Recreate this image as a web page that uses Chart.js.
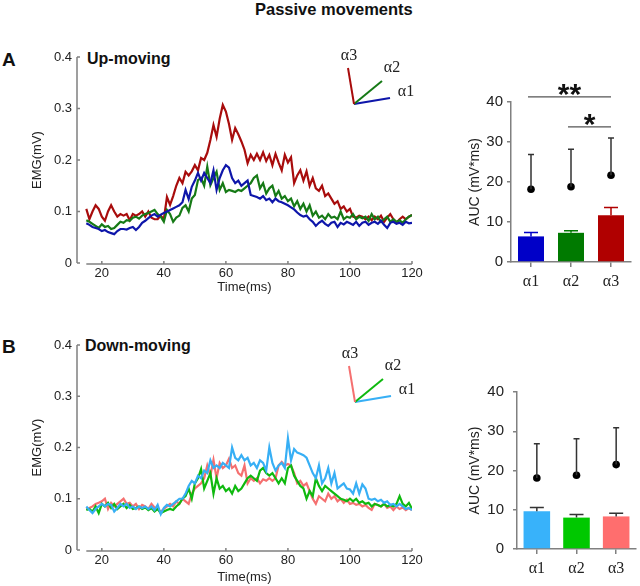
<!DOCTYPE html>
<html>
<head>
<meta charset="utf-8">
<script src="https://cdn.jsdelivr.net/npm/chart.js@4.4.1/dist/chart.umd.min.js"></script>
<style>
  body { margin: 0; width: 640px; height: 586px; overflow: hidden; background: #fff; position: relative;
         font-family: "Liberation Sans", Arial, sans-serif; }
  .lbl { position: absolute; font-weight: bold; color: #111; white-space: nowrap; line-height: 1; }
  canvas { position: absolute; }
</style>
</head>
<body>
<div class="lbl" style="left:255px;top:1px;font-size:16.5px">Passive movements</div>
<div class="lbl" style="left:2px;top:50px;font-size:19px">A</div>
<div class="lbl" style="left:87px;top:51px;font-size:16px">Up-moving</div>
<div class="lbl" style="left:2px;top:337px;font-size:19px">B</div>
<div class="lbl" style="left:85px;top:338px;font-size:16px">Down-moving</div>

<canvas id="upLine" width="430" height="260" style="left:0;top:40px"></canvas>
<canvas id="upBar" width="200" height="260" style="left:440px;top:40px"></canvas>
<canvas id="downLine" width="430" height="260" style="left:0;top:326px"></canvas>
<canvas id="downBar" width="192" height="256" style="left:448px;top:330px"></canvas>

<script>
// time axis (ms)
const timeMs = [
  15, 16, 17, 18, 19, 20, 21, 22, 23, 24,
  25, 26, 27, 28, 29, 30, 31, 32, 33, 34,
  35, 36, 37, 38, 39, 40, 41, 42, 43, 44,
  45, 46, 47, 48, 49, 50, 51, 52, 53, 54,
  55, 56, 57, 58, 59, 60, 61, 62, 63, 64,
  65, 66, 67, 68, 69, 70, 71, 72, 73, 74,
  75, 76, 77, 78, 79, 80, 81, 82, 83, 84,
  85, 86, 87, 88, 89, 90, 91, 92, 93, 94,
  95, 96, 97, 98, 99, 100, 101, 102, 103, 104,
  105, 106, 107, 108, 109, 110, 111, 112, 113, 114,
  115, 116, 117, 118, 119, 120
];
const timeTicks = [20, 40, 60, 80, 100, 120];
const emgTicks = [0, 0.1, 0.2, 0.3, 0.4];
const aucTicks = [0, 10, 20, 30, 40];
const alphaLabels = ['α1', 'α2', 'α3'];

// A: up-moving EMG (mV)
const upAlpha1 = [
  0.077, 0.074, 0.070, 0.068, 0.066, 0.062, 0.064, 0.060, 0.058, 0.056,
  0.062, 0.066, 0.066, 0.065, 0.068, 0.070, 0.064, 0.070, 0.078, 0.082,
  0.087, 0.092, 0.095, 0.090, 0.094, 0.097, 0.100, 0.103, 0.106, 0.109,
  0.112, 0.118, 0.142, 0.124, 0.148, 0.160, 0.175, 0.160, 0.175, 0.165,
  0.155, 0.180, 0.142, 0.165, 0.180, 0.190, 0.185, 0.165, 0.155, 0.160,
  0.150, 0.155, 0.160, 0.132, 0.130, 0.128, 0.125, 0.130, 0.122, 0.125,
  0.118, 0.125, 0.120, 0.118, 0.115, 0.112, 0.108, 0.104, 0.098, 0.093,
  0.090, 0.092, 0.085, 0.080, 0.072, 0.078, 0.082, 0.076, 0.072, 0.078,
  0.080, 0.070, 0.078, 0.075, 0.080, 0.077, 0.074, 0.080, 0.072, 0.078,
  0.080, 0.074, 0.078, 0.080, 0.076, 0.082, 0.074, 0.068, 0.078, 0.080,
  0.076, 0.078, 0.074, 0.080, 0.077, 0.078
];
const upAlpha2 = [
  0.083, 0.080, 0.076, 0.072, 0.068, 0.075, 0.070, 0.072, 0.066, 0.068,
  0.074, 0.080, 0.078, 0.083, 0.082, 0.088, 0.090, 0.086, 0.092, 0.095,
  0.097, 0.100, 0.103, 0.095, 0.090, 0.080, 0.103, 0.095, 0.080, 0.088,
  0.092, 0.107, 0.112, 0.100, 0.125, 0.132, 0.161, 0.165, 0.150, 0.187,
  0.151, 0.165, 0.177, 0.142, 0.155, 0.138, 0.142, 0.140, 0.138, 0.142,
  0.140, 0.145, 0.150, 0.155, 0.165, 0.170, 0.145, 0.155, 0.135, 0.145,
  0.150, 0.130, 0.140, 0.125, 0.130, 0.120, 0.125, 0.110, 0.120, 0.105,
  0.115, 0.100, 0.112, 0.092, 0.100, 0.088, 0.092, 0.085, 0.095, 0.088,
  0.090, 0.085, 0.100, 0.085, 0.090, 0.088, 0.095, 0.085, 0.090, 0.087,
  0.090, 0.082, 0.095, 0.085, 0.090, 0.080, 0.085, 0.090, 0.080, 0.085,
  0.080, 0.083, 0.078, 0.085, 0.090, 0.093
];
const upAlpha3 = [
  0.105, 0.085, 0.100, 0.112, 0.105, 0.090, 0.082, 0.100, 0.112, 0.100,
  0.090, 0.095, 0.092, 0.095, 0.083, 0.095, 0.092, 0.095, 0.100, 0.090,
  0.100, 0.088, 0.085, 0.085, 0.092, 0.085, 0.128, 0.113, 0.130, 0.150,
  0.165, 0.155, 0.177, 0.170, 0.178, 0.190, 0.180, 0.204, 0.200, 0.214,
  0.239, 0.268, 0.245, 0.280, 0.307, 0.294, 0.270, 0.239, 0.262, 0.250,
  0.236, 0.220, 0.194, 0.210, 0.200, 0.212, 0.200, 0.215, 0.198, 0.210,
  0.190, 0.212, 0.195, 0.180, 0.210, 0.195, 0.205, 0.155, 0.170, 0.180,
  0.160, 0.178, 0.150, 0.165, 0.145, 0.140, 0.150, 0.130, 0.135, 0.125,
  0.115, 0.120, 0.105, 0.110, 0.100, 0.105, 0.090, 0.088, 0.092, 0.090,
  0.085, 0.090, 0.083, 0.090, 0.085, 0.092, 0.080, 0.088, 0.095, 0.085,
  0.078, 0.085, 0.090, 0.085, 0.090, 0.093
];

// B: down-moving EMG (mV)
const downAlpha1 = [
  0.085, 0.078, 0.072, 0.080, 0.085, 0.090, 0.085, 0.090, 0.088, 0.075,
  0.082, 0.090, 0.085, 0.090, 0.082, 0.085, 0.080, 0.085, 0.082, 0.085,
  0.080, 0.085, 0.078, 0.088, 0.070, 0.082, 0.088, 0.085, 0.090, 0.095,
  0.100, 0.100, 0.110, 0.125, 0.135, 0.130, 0.145, 0.140, 0.155, 0.150,
  0.175, 0.160, 0.165, 0.160, 0.170, 0.165, 0.160, 0.200, 0.180, 0.175,
  0.185, 0.175, 0.180, 0.165, 0.170, 0.160, 0.175, 0.170, 0.155, 0.200,
  0.170, 0.155, 0.165, 0.170, 0.160, 0.218, 0.175, 0.197, 0.190, 0.188,
  0.185, 0.180, 0.165, 0.150, 0.140, 0.165, 0.130, 0.140, 0.160, 0.130,
  0.150, 0.120, 0.125, 0.130, 0.120, 0.118, 0.110, 0.130, 0.110, 0.128,
  0.120, 0.100, 0.098, 0.100, 0.095, 0.098, 0.092, 0.095, 0.088, 0.090,
  0.085, 0.090, 0.085, 0.080, 0.082, 0.078
];
const downAlpha2 = [
  0.078, 0.080, 0.075, 0.085, 0.072, 0.090, 0.085, 0.092, 0.082, 0.090,
  0.080, 0.085, 0.090, 0.082, 0.088, 0.080, 0.082, 0.085, 0.080, 0.083,
  0.078, 0.082, 0.075, 0.080, 0.072, 0.075, 0.078, 0.080, 0.078, 0.085,
  0.090, 0.100, 0.105, 0.120, 0.100, 0.130, 0.140, 0.158, 0.120, 0.135,
  0.150, 0.110, 0.140, 0.120, 0.125, 0.115, 0.120, 0.110, 0.125, 0.115,
  0.120, 0.130, 0.140, 0.145, 0.140, 0.135, 0.155, 0.160, 0.150, 0.145,
  0.150, 0.140, 0.130, 0.140, 0.130, 0.160, 0.165, 0.145, 0.135, 0.125,
  0.120, 0.100, 0.115, 0.105, 0.140, 0.125, 0.115, 0.125, 0.120, 0.115,
  0.110, 0.105, 0.100, 0.098, 0.095, 0.100, 0.095, 0.100, 0.092, 0.095,
  0.090, 0.092, 0.085, 0.090, 0.088, 0.085, 0.090, 0.085, 0.088, 0.085,
  0.090, 0.105, 0.090, 0.085, 0.092, 0.080
];
const downAlpha3 = [
  0.080, 0.082, 0.085, 0.090, 0.092, 0.095, 0.100, 0.080, 0.092, 0.085,
  0.090, 0.095, 0.100, 0.090, 0.092, 0.085, 0.090, 0.080, 0.088, 0.085,
  0.080, 0.090, 0.083, 0.080, 0.075, 0.080, 0.085, 0.090, 0.085, 0.095,
  0.090, 0.100, 0.095, 0.090, 0.110, 0.120, 0.125, 0.130, 0.140, 0.165,
  0.145, 0.176, 0.140, 0.170, 0.160, 0.165, 0.178, 0.160, 0.165, 0.150,
  0.145, 0.165, 0.130, 0.140, 0.135, 0.140, 0.130, 0.138, 0.135, 0.140,
  0.135, 0.140, 0.165, 0.172, 0.165, 0.168, 0.165, 0.150, 0.130, 0.135,
  0.125, 0.130, 0.115, 0.100, 0.090, 0.105, 0.100, 0.095, 0.110, 0.100,
  0.105, 0.095, 0.100, 0.092, 0.098, 0.090, 0.092, 0.088, 0.090, 0.085,
  0.088, 0.082, 0.078, 0.090, 0.088, 0.085, 0.090, 0.082, 0.085, 0.078,
  0.085, 0.080, 0.083, 0.078, 0.082, 0.078
];

// AUC (mV*ms): bar mean, bar error, dot value, dot error
const upAucMean = [6.4, 7.3, 11.7];
const upAucErr = [1.0, 0.5, 1.9];
const upDotMean = [18.2, 18.8, 21.7];
const upDotErr = [8.7, 9.4, 9.3];
const downAucMean = [9.6, 8.0, 8.3];
const downAucErr = [1.0, 0.8, 0.8];
const downDotMean = [18.1, 18.8, 21.5];
const downDotErr = [8.7, 9.3, 9.4];

// significance brackets on A: [from, to, level, stars]
const upSignificance = [[0, 2, 41.3, '**'], [1, 2, 33.8, '*']];

const upColors = ['rgb(14, 22, 170)', 'rgb(22, 122, 22)', 'rgb(168, 12, 12)'];
const upBarColors = ['rgb(0, 0, 200)', 'rgb(0, 122, 0)', 'rgb(176, 0, 0)'];
const downColors = ['rgb(55, 175, 245)', 'rgb(15, 185, 15)', 'rgb(245, 112, 112)'];
const downBarColors = ['rgb(56, 178, 250)', 'rgb(0, 200, 0)', 'rgb(255, 110, 110)'];

const axisColor = '#808080';
const textColor = '#222';

function points(values) {
  return values.map((v, i) => ({ x: timeMs[i], y: v }));
}

// matlab-ish axes: y line at the plot edge, x line starting at the first sample, ticks inward
const emgAxes = {
  id: 'emgAxes',
  beforeDatasetsDraw(chart) {
    const { ctx, chartArea: a, scales: { x, y } } = chart;
    const yb = a.bottom + 1;
    ctx.save();
    ctx.strokeStyle = axisColor;
    ctx.lineWidth = 1.5;
    ctx.beginPath();
    ctx.moveTo(a.left, a.top);
    ctx.lineTo(a.left, a.bottom);
    ctx.moveTo(x.getPixelForValue(timeMs[0]), yb);
    ctx.lineTo(a.right, yb);
    emgTicks.forEach(v => {
      const py = y.getPixelForValue(v);
      ctx.moveTo(a.left, py);
      ctx.lineTo(a.left + 3, py);
    });
    timeTicks.forEach(v => {
      const px = x.getPixelForValue(v);
      ctx.moveTo(px, yb);
      ctx.lineTo(px, yb - 3);
    });
    ctx.stroke();
    ctx.restore();
  }
};

// little direction key (α1 / α2 / α3)
function directionKey(ox, oy, colors) {
  const ends = [[36, -6], [28, -23], [-6, -36]];
  const labels = [[52, -12], [38, -36], [-5, -48]];
  return {
    id: 'directionKey',
    afterDraw(chart) {
      const ctx = chart.ctx;
      ctx.save();
      ctx.lineWidth = 2;
      ends.forEach((e, i) => {
        ctx.strokeStyle = colors[i];
        ctx.beginPath();
        ctx.moveTo(ox, oy);
        ctx.lineTo(ox + e[0], oy + e[1]);
        ctx.stroke();
      });
      ctx.fillStyle = textColor;
      ctx.font = '16px "Liberation Serif", "Times New Roman", serif';
      ctx.textAlign = 'center';
      ctx.textBaseline = 'middle';
      labels.forEach((l, i) => ctx.fillText(alphaLabels[i], ox + l[0], oy + l[1]));
      ctx.restore();
    }
  };
}

function lineOptions(padTop, xHeight, titlePad) {
  return {
    responsive: false,
    animation: false,
    layout: { padding: { left: 0, right: 18, top: padTop, bottom: 0 } },
    plugins: { legend: { display: false }, tooltip: { enabled: false } },
    elements: { point: { radius: 0 }, line: { borderWidth: 2.2, tension: 0 } },
    scales: {
      x: {
        type: 'linear', min: 12, max: 120,
        afterBuildTicks: s => { s.ticks = timeTicks.map(v => ({ value: v })); },
        afterFit: s => { s.height = xHeight; },
        grid: { display: false, drawTicks: false },
        border: { display: false },
        ticks: { color: textColor, font: { size: 13 }, padding: 3, maxRotation: 0 },
        title: { display: true, text: 'Time(ms)', color: textColor, font: { size: 13 },
                 padding: { top: 0, bottom: titlePad } }
      },
      y: {
        min: 0, max: 0.4,
        afterBuildTicks: s => { s.ticks = emgTicks.map(v => ({ value: v })); },
        afterFit: s => { s.width = 77; },
        grid: { display: false, drawTicks: false },
        border: { display: false },
        ticks: { color: textColor, font: { size: 13 }, padding: 5 },
        title: { display: true, text: 'EMG(mV)', color: textColor, font: { size: 13 },
                 padding: { top: 30, bottom: 0 } }
      }
    }
  };
}

function emgData(series, colors) {
  return {
    datasets: series.map((s, i) => ({
      label: alphaLabels[i], data: points(s), borderColor: colors[i]
    }))
  };
}

// bar error bars, dot whiskers, significance brackets
function aucExtras(errs, dotErrs, barColors, capColor, brackets) {
  return {
    id: 'aucExtras',
    afterDatasetsDraw(chart) {
      const { ctx, scales: { x, y } } = chart;
      const means = chart.data.datasets[0].data;
      const dots = chart.data.datasets[1].data;
      ctx.save();
      ctx.lineWidth = 1.5;
      means.forEach((m, i) => {
        const px = x.getPixelForValue(i);
        const top = y.getPixelForValue(m + errs[i]);
        ctx.strokeStyle = capColor || barColors[i];
        ctx.beginPath();
        ctx.moveTo(px, y.getPixelForValue(m));
        ctx.lineTo(px, top);
        ctx.moveTo(px - 7, top);
        ctx.lineTo(px + 7, top);
        ctx.stroke();
        const wTop = y.getPixelForValue(dots[i] + dotErrs[i]);
        ctx.strokeStyle = '#333';
        ctx.beginPath();
        ctx.moveTo(px, y.getPixelForValue(dots[i]));
        ctx.lineTo(px, wTop);
        ctx.moveTo(px - 3, wTop);
        ctx.lineTo(px + 3, wTop);
        ctx.stroke();
      });
      (brackets || []).forEach(b => {
        const x0 = x.getPixelForValue(b[0]) - 3;
        const x1 = x.getPixelForValue(b[1]);
        const py = y.getPixelForValue(b[2]);
        ctx.strokeStyle = '#555';
        ctx.lineWidth = 1.2;
        ctx.beginPath();
        ctx.moveTo(x0, py);
        ctx.lineTo(x1, py);
        ctx.stroke();
        ctx.fillStyle = '#111';
        ctx.font = 'bold 30px "Liberation Sans", Arial, sans-serif';
        ctx.textAlign = 'center';
        ctx.textBaseline = 'alphabetic';
        ctx.fillText(b[3], (x0 + x1) / 2, py + 7);
      });
      ctx.restore();
    }
  };
}

function barOptions(padRight, yWidth, tickPad, titlePad, xHeight) {
  return {
    responsive: false,
    animation: false,
    layout: { padding: { left: 0, right: padRight, top: 62, bottom: 0 } },
    plugins: { legend: { display: false }, tooltip: { enabled: false } },
    scales: {
      x: {
        afterFit: s => { s.height = xHeight; },
        grid: { display: true, drawOnChartArea: false, drawTicks: true, tickLength: 5,
                offset: false, color: axisColor, lineWidth: 1.5 },
        border: { display: true, color: axisColor, width: 1.5 },
        ticks: { color: textColor, padding: 5,
                 font: { size: 16, family: '"Liberation Serif", "Times New Roman", serif' } }
      },
      y: {
        min: 0, max: 40,
        afterBuildTicks: s => { s.ticks = aucTicks.map(v => ({ value: v })); },
        afterFit: s => { s.width = yWidth; },
        grid: { display: true, drawOnChartArea: false, drawTicks: true, tickLength: 4,
                color: axisColor, lineWidth: 1.5 },
        border: { display: true, color: axisColor, width: 1.5 },
        ticks: { color: textColor, font: { size: 15 }, padding: tickPad },
        title: { display: true, text: 'AUC (mV*ms)', color: textColor, font: { size: 14 },
                 padding: { top: titlePad, bottom: 0 } }
      }
    }
  };
}

function aucData(means, dots, colors, barPct) {
  return {
    labels: alphaLabels,
    datasets: [
      { type: 'bar', data: means, backgroundColor: colors, borderWidth: 0,
        barPercentage: barPct, categoryPercentage: 1, order: 2 },
      { type: 'line', data: dots, showLine: false, pointRadius: 3.8, pointBorderWidth: 0,
        pointBackgroundColor: '#000', order: 1 }
    ]
  };
}

const upLineChart = new Chart(document.getElementById('upLine'), {
  type: 'line',
  data: emgData([upAlpha1, upAlpha2, upAlpha3], upColors),
  options: lineOptions(17, 37, 5),
  plugins: [emgAxes, directionKey(354, 64, upColors)]
});

const downLineChart = new Chart(document.getElementById('downLine'), {
  type: 'line',
  data: emgData([downAlpha1, downAlpha2, downAlpha3], downColors),
  options: lineOptions(19, 36, 1),
  plugins: [emgAxes, directionKey(355, 76, downColors)]
});

const upBarChart = new Chart(document.getElementById('upBar'), {
  type: 'bar',
  data: aucData(upAucMean, upDotMean, upBarColors, 0.65),
  options: barOptions(9, 71, 4, 27, 38),
  plugins: [aucExtras(upAucErr, upDotErr, upBarColors, null, upSignificance)]
});

const downBarChart = new Chart(document.getElementById('downBar'), {
  type: 'bar',
  data: aucData(downAucMean, downDotMean, downBarColors, 0.67),
  options: barOptions(3, 69, 9, 19, 37),
  plugins: [aucExtras(downAucErr, downDotErr, downBarColors, '#333', null)]
});
</script>
</body>
</html>
